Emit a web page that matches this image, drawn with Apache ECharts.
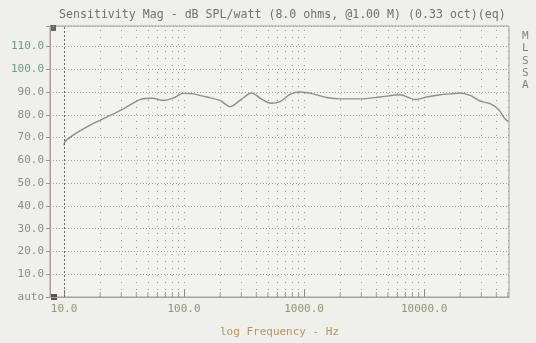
<!DOCTYPE html>
<html><head><meta charset="utf-8">
<script src="https://cdn.jsdelivr.net/npm/echarts@6/dist/echarts.min.js"></script>
<style>html,body{margin:0;padding:0;background:#efefec;}#c{width:536px;height:343px;}</style>
</head><body><div id="c"></div>
<script>
const freqHz = [10, 10.2, 12, 16.5, 22.7, 31, 43, 55, 67, 81, 98, 119, 154, 199, 242, 300, 365, 440, 530, 630, 765, 925, 1190, 1540, 2000, 2930, 4300, 6300, 8400, 10500, 13700, 16600, 20000, 24200, 29400, 35500, 41700, 47000, 50500];
const splDb = [66.5, 68.3, 71.2, 75.5, 79, 82.5, 86.7, 87.3, 86.3, 87.3, 89.4, 89.2, 87.8, 86.3, 83.6, 86.8, 89.6, 87, 85.1, 85.8, 89, 90, 89.2, 87.6, 87, 87, 87.8, 88.8, 86.7, 87.8, 88.8, 89.2, 89.6, 88.5, 86, 84.9, 82.3, 78.4, 77];
const minorGridHz = [20,30,40,50,60,70,80,90,200,300,400,500,600,700,800,900,2000,3000,4000,5000,6000,7000,8000,9000,20000,30000,40000,50000];
const decadeHz = [100, 1000, 10000];
const xTickLabels = ['10.0', '100.0', '1000.0', '10000.0'];
const yTicks = [0,10,20,30,40,50,60,70,80,90,100,110];

const chart = echarts.init(document.getElementById('c'), null, {renderer:'canvas'});
const mono = 'DejaVu Sans Mono';
const xLabel = v => {
  const e = Math.log10(v);
  if (Math.abs(e - Math.round(e)) > 1e-6) return '';
  const i = Math.round(e) - 1;
  return (i >= 0 && i < xTickLabels.length) ? xTickLabels[i] : '';
};

chart.setOption({
  backgroundColor: '#efefec',
  animation: false,
  title: {
    text: 'Sensitivity Mag - dB SPL/watt (8.0 ohms, @1.00 M) (0.33 oct)(eq)',
    left: 54, top: 4,
    textStyle: {fontFamily: mono, fontSize: 11.6, fontWeight: 'normal', color: '#747076'}
  },
  graphic: [
    {type:'text', left: 522, top: 30, style:{text:'M\nL\nS\nS\nA', font:'11px "DejaVu Sans Mono"', fill:'#8a7f86', lineHeight: 12.3}},
    {type:'rect', left: 50, top: 25, shape:{width:6, height:6}, style:{fill:'#666'}},
    {type:'rect', left: 51, top: 294, shape:{width:6, height:6}, style:{fill:'#555'}}
  ],
  grid: {left: 50, right: 27, top: 26, bottom: 41, show: true, borderColor: '#a99ca3', borderWidth: 1, backgroundColor: '#f2f2ef'},
  xAxis: {
    type: 'log', logBase: 10, min: 7.64, max: 51000,
    name: 'log Frequency - Hz', nameLocation: 'middle', nameGap: 30,
    nameTextStyle: {fontFamily: mono, fontSize: 11, color: '#b8955e'},
    axisLine: {show: true, lineStyle: {color: '#a99ca3'}},
    axisTick: {show: true, inside: true, length: 7, lineStyle: {color: '#888'}},
    axisLabel: {fontFamily: mono, fontSize: 11, color: '#8e9670', margin: 7, showMinLabel: false, showMaxLabel: false,
      formatter: xLabel},
    splitLine: {show: false}
  },
  yAxis: {
    type: 'value', min: 0, max: 119, interval: 10,
    axisLine: {show: true, lineStyle: {color: '#a99ca3'}},
    axisTick: {show: true, length: 4, lineStyle: {color: '#999'}},
    axisLabel: {fontFamily: mono, fontSize: 11, margin: 6,
      color: v => (v >= 100 ? '#6e9a8c' : '#8c8c8c'),
      formatter: v => (v === 0 ? 'auto' : (yTicks.indexOf(v) >= 0 ? v.toFixed(1) : ''))},
    splitLine: {show: true, lineStyle: {color: '#a2a2a2', type: [1, 2], width: 1}}
  },
  series: [
    {
      type: 'line', data: freqHz.map((f, i) => [f, splDb[i]]),
      showSymbol: false, smooth: 0.3,
      lineStyle: {color: '#8f8f8f', width: 1.4},
      markLine: {
        silent: true, symbol: 'none', label: {show: false},
        data: minorGridHz.concat(decadeHz).map(f => ({xAxis: f, lineStyle: {color: '#9a9a9a', type: [1, 6], width: 1}}))
          .concat([{xAxis: 10, lineStyle: {color: '#666', type: [2, 2], width: 1}}])
      }
    },
    {
      type: 'scatter', data: minorGridHz.map(f => [f, 0]),
      symbol: 'rect', symbolSize: [1, 5], symbolOffset: [0, -2.5],
      itemStyle: {color: '#888'}, silent: true
    }
  ]
});
</script></body></html>
